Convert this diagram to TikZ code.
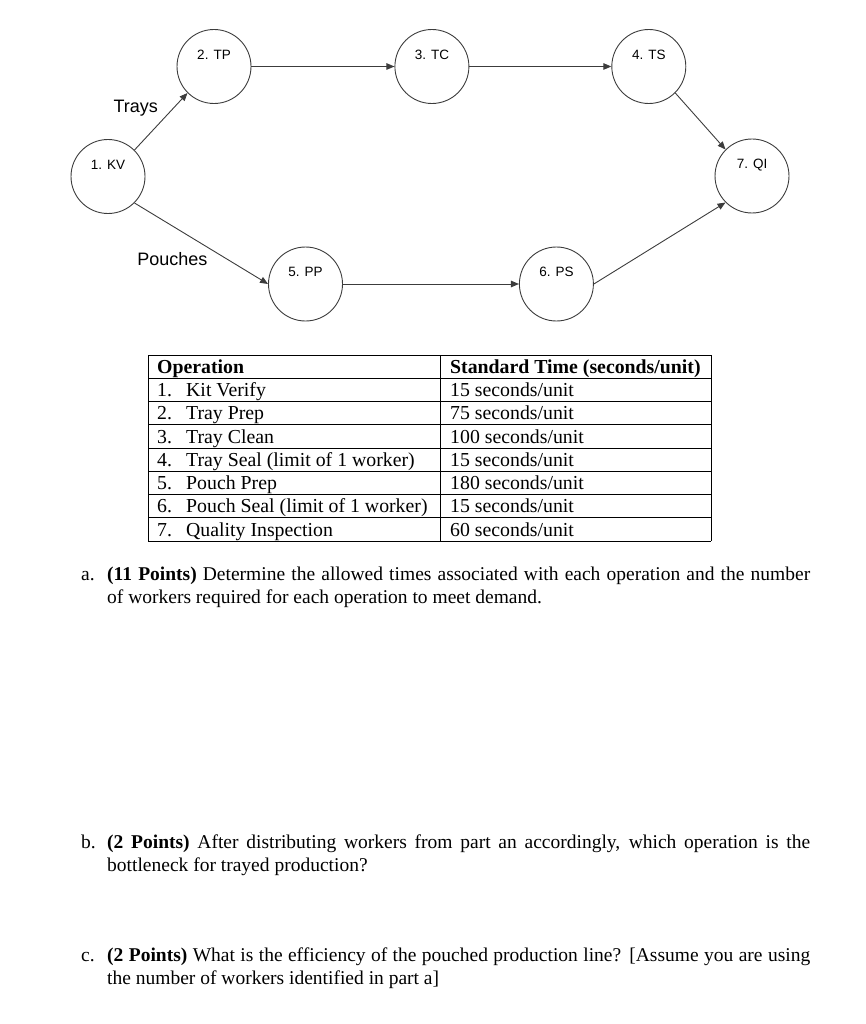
\documentclass[tikz,border=0pt]{standalone}
\usepackage{fontspec}
\setmainfont{Liberation Serif}
\newfontfamily\arialfont{Liberation Sans}
\usetikzlibrary{arrows.meta,positioning}
\definecolor{LineGray}{RGB}{60,60,60}

\begin{document}
\begin{tikzpicture}[x=1pt, y=-1pt,
    op/.style={circle, draw=LineGray, line width=0.9pt, minimum size=74pt, inner sep=2pt, text depth=24pt, font=\arialfont\fontsize{13.5}{14}\selectfont},
    arr/.style={-{Triangle[length=8pt, width=6.5pt]}, draw=LineGray, line width=0.9pt},
    lab/.style={inner sep=0pt, font=\arialfont\fontsize{18}{20}\selectfont},
    cell/.style={anchor=base west, inner sep=0pt, font=\fontsize{19.8}{22}\selectfont},
    quest/.style={anchor=north west, inner sep=0pt, text width=729pt, align=justify, font=\fontsize{19.5}{22.5}\selectfont}
  ]
  \useasboundingbox (0,0) rectangle (865,1024);
  % flow of the operations
  \node[op] (kv) at (108,176.5) {1. KV};
  \node[op] (tp) at (214,66.5) {2. TP};
  \node[op, right=143pt of tp] (tc) {3. TC};
  \node[op, right=142pt of tc] (ts) {4. TS};
  \node[op] (qi) at (752,176) {7. QI};
  \node[op] (pp) at (305.5,284) {5. PP};
  \node[op, right=176pt of pp] (ps) {6. PS};

  \draw[arr] (kv.north east) -- node[lab, pos=0.45, anchor=south east, yshift=8pt] {Trays} (tp.south west);
  \draw[arr] (tp) -- (tc);
  \draw[arr] (tc) -- (ts);
  \draw[arr] (ts.south east) -- (qi.north west);
  \draw[arr] (kv.south east) -- node[lab, pos=0.55, anchor=north east, yshift=-4pt] {Pouches} (pp.west);
  \draw[arr] (pp) -- (ps);
  \draw[arr] (ps.east) -- (qi.south west);

  % table of standard times
  \foreach \k in {0,...,8}
    \draw[line width=0.7pt] (148,{355+23.25*\k}) -- (711,{355+23.25*\k});
  \draw[line width=0.7pt] (148,355) -- (148,541) (440,355) -- (440,541) (711,355) -- (711,541);
  \node[cell] (hop) at (157,373.3) {\textbf{Operation}};
  \node[cell] (htime) at (450,373.3) {\textbf{Standard Time (seconds/unit)}};
  \foreach \name/\time [count=\k] in {Kit Verify/15, Tray Prep/75, Tray Clean/100,
      Tray Seal (limit of 1 worker)/15, Pouch Prep/180,
      Pouch Seal (limit of 1 worker)/15, Quality Inspection/60} {
    \node[cell] (num\k) at (157,{350+23.25*(\k+1)}) {\k.};
    \node[cell] (op\k) at (186,{350+23.25*(\k+1)}) {\name};
    \node[cell] (t\k) at (450,{350+23.25*(\k+1)}) {\time{} seconds/unit};
  }

  % questions
  \node[quest] (qa) at (81,567) {\noindent\makebox[26pt][l]{a.}\hangindent=26pt\hangafter=1 \textbf{(11 Points)} Determine the allowed times associated with each operation and the number\linebreak of workers required for each operation to meet demand.\par};
  \node[quest] (qb) at (81,835) {\noindent\makebox[26pt][l]{b.}\hangindent=26pt\hangafter=1 \textbf{(2 Points)} After distributing workers from part an accordingly, which operation is the\linebreak bottleneck for trayed production?\par};
  \node[quest] (qc) at (81,948) {\noindent\makebox[26pt][l]{c.}\hangindent=26pt\hangafter=1 \textbf{(2 Points)} What is the efficiency of the pouched production line? [Assume you are using\linebreak the number of workers identified in part a]\par};
\end{tikzpicture}
\end{document}
